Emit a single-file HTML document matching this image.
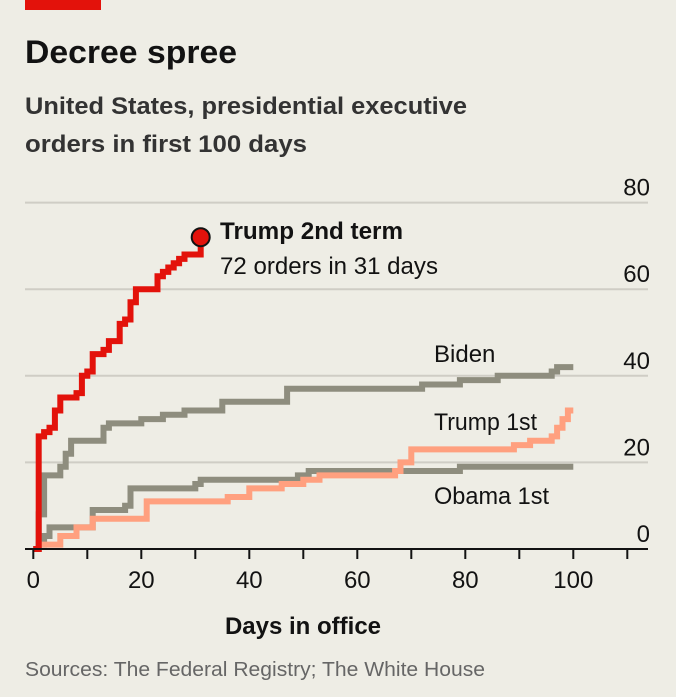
<!DOCTYPE html>
<html><head><meta charset="utf-8"><style>
body{margin:0;background:#eeede5;}
svg{display:block;font-family:"Liberation Sans Narrow","Liberation Sans",sans-serif;}
</style></head><body>
<svg id="c" width="676" height="697" viewBox="0 0 676 697">
<rect width="676" height="697" fill="#eeede5"/>
<rect x="25" y="0" width="76" height="10" fill="#e3120b"/>
<text x="25" y="63" font-size="32" font-weight="bold" fill="#121212" textLength="212" lengthAdjust="spacingAndGlyphs">Decree spree</text>
<text x="25" y="114" font-size="24" font-weight="bold" fill="#333" textLength="442" lengthAdjust="spacingAndGlyphs">United States, presidential executive</text>
<text x="25" y="152" font-size="24" font-weight="bold" fill="#333" textLength="282" lengthAdjust="spacingAndGlyphs">orders in first 100 days</text>
<g id="grid"></g><g id="series"></g><g id="axis"></g>
<text x="220" y="239" font-size="24" font-weight="bold" fill="#121212" textLength="183" lengthAdjust="spacingAndGlyphs">Trump 2nd term</text>
<text x="220" y="274" font-size="24" fill="#121212" textLength="218" lengthAdjust="spacingAndGlyphs">72 orders in 31 days</text>
<text x="434" y="362" font-size="24" fill="#121212">Biden</text>
<text x="434" y="430" font-size="24" fill="#121212" textLength="103" lengthAdjust="spacingAndGlyphs">Trump 1st</text>
<text x="434" y="504" font-size="24" fill="#121212" textLength="115" lengthAdjust="spacingAndGlyphs">Obama 1st</text>
<text x="303" y="634" font-size="24" font-weight="bold" fill="#121212" text-anchor="middle">Days in office</text>
<text x="25" y="676" font-size="20" fill="#666" textLength="460" lengthAdjust="spacingAndGlyphs">Sources: The Federal Registry; The White House</text>
</svg>
<script>
const yTicks=[0,20,40,60,80];
const xTicks=[0,20,40,60,80,100];
const trump2Days=[0,1,2,3,4,5,8,9,10,11,13,14,16,17,18,19,22,23,24,25,26,27,28,30,31];
const trump2Vals=[0,26,27,28,32,35,36,40,41,45,46,48,52,53,57,60,60,63,64,65,66,67,68,68,72];
const bidenDays=[0,1,2,5,6,7,13,14,20,24,28,35,47,72,79,86,96,97,100];
const bidenVals=[0,8,17,19,22,25,28,29,30,31,32,34,37,38,39,40,41,42,42];
const obamaDays=[0,1,2,3,11,17,18,30,31,49,51,79,100];
const obamaVals=[0,1,3,5,9,10,14,15,16,17,18,19,19];
const trump1Days=[0,1,5,8,11,15,21,36,40,46,50,53,67,68,70,89,92,96,97,98,99,100];
const trump1Vals=[0,1,3,5,7,7,11,12,14,15,16,17,18,20,23,24,25,26,28,30,32,32];
const X=d=>33.3+d*5.4, Y=v=>549-v*4.33;
const NS='http://www.w3.org/2000/svg';
function mk(t,a,p){const e=document.createElementNS(NS,t);for(const k in a)e.setAttribute(k,a[k]);p.appendChild(e);return e;}
const grid=document.getElementById('grid'),axis=document.getElementById('axis'),ser=document.getElementById('series');
yTicks.forEach(v=>{
 if(v>0){const l=mk('line',{x1:25,x2:648,y1:Y(v),y2:Y(v),stroke:'#cfcdc5','stroke-width':2},grid);
 
 }
 const t=mk('text',{x:650,y:Y(v)-7,'font-size':24,fill:'#121212','text-anchor':'end'},axis);t.textContent=v;
 
 
});
const ax=mk('line',{x1:25,x2:648,y1:549,y2:549,stroke:'#121212','stroke-width':2},axis);


for(let d=0;d<=110;d+=10){const tk=mk('line',{x1:X(d),x2:X(d),y1:549,y2:559,stroke:'#121212','stroke-width':2},axis);
 
 }
xTicks.forEach(d=>{const t=mk('text',{x:X(d),y:588,'font-size':24,fill:'#121212','text-anchor':'middle'},axis);t.textContent=d;
 
 });
function step(days,vals,col,name){
 let s='M'+X(days[0])+','+Y(vals[0]);
 for(let i=1;i<days.length;i++){s+=' H'+X(days[i])+' V'+Y(vals[i]);}
 const p=mk('path',{d:s,fill:'none',stroke:col,'stroke-width':6,'stroke-linejoin':'miter'},ser);
 
 
}
step(obamaDays,obamaVals,'#8e8d7e','obama-line');
step(trump1Days,trump1Vals,'#ffa07f','trump1-line');
step(bidenDays,bidenVals,'#8e8d7e','biden-line');
step(trump2Days,trump2Vals,'#e3120b','trump2-line');
const n=trump2Days.length-1;
const dot=mk('circle',{cx:X(trump2Days[n]),cy:Y(trump2Vals[n]),r:9,fill:'#e3120b',stroke:'#121212','stroke-width':2},ser);


</script>
</body></html>
